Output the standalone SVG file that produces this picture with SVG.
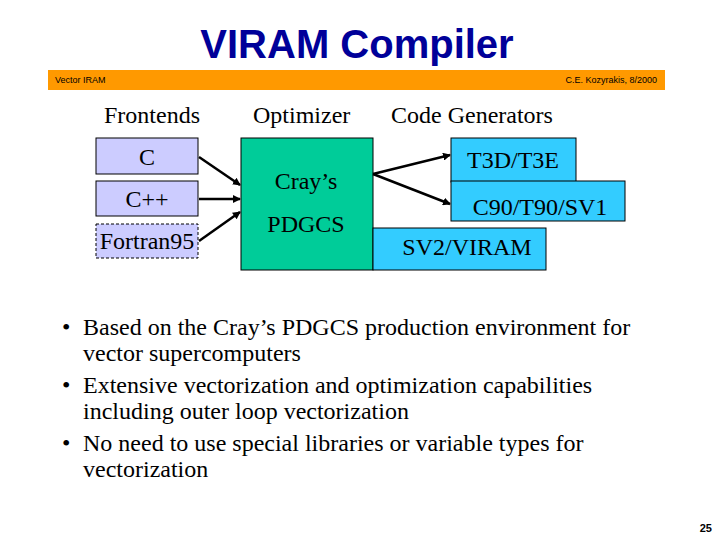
<svg xmlns="http://www.w3.org/2000/svg" width="720" height="540" viewBox="0 0 720 540">
<style>
.t{font-family:"Liberation Serif","Times New Roman",serif;font-size:24px;fill:#000}
.b{font-family:"Liberation Serif","Times New Roman",serif;font-size:24px;fill:#000;text-anchor:middle}
.fe{fill:#ccccff;stroke:#000;stroke-width:1}
.cg{fill:#33ccff;stroke:#000;stroke-width:1}
.c{stroke:#000;stroke-width:2.5;fill:none;marker-end:url(#ah)}
.s{font-family:"Liberation Sans",Arial,sans-serif;font-size:9px;fill:#000}
</style>
<defs>
<marker id="ah" markerWidth="8" markerHeight="8" refX="7" refY="4" orient="auto" markerUnits="userSpaceOnUse" viewBox="0 0 8 8">
<path d="M0,0 L8,4 L0,8 Z" fill="#000"/>
</marker>
</defs>
<rect width="720" height="540" fill="#fff"/>
<text x="357" y="58" text-anchor="middle" font-family="Liberation Sans,Arial,sans-serif" font-weight="bold" font-size="40" fill="#000099">VIRAM Compiler</text>
<rect x="48" y="70" width="617" height="20" fill="#ff9900"/>
<text x="55" y="83" class="s">Vector IRAM</text>
<text x="657" y="83" class="s" text-anchor="end">C.E. Kozyrakis, 8/2000</text>
<text x="104" y="123" class="t">Frontends</text>
<text x="253" y="123" class="t">Optimizer</text>
<text x="391" y="123" class="t">Code Generators</text>
<g id="node-c"><rect x="96" y="138" width="102" height="36" class="fe"/><text x="147" y="165" class="b">C</text></g>
<g id="node-cpp"><rect x="96" y="181" width="102" height="35" class="fe"/><text x="147" y="207" class="b">C++</text></g>
<g id="node-fortran"><rect x="96" y="224" width="102" height="34" class="fe" stroke-dasharray="3,2"/><text x="147" y="249" class="b">Fortran95</text></g>
<g id="node-pdgcs"><rect x="241" y="138" width="132" height="132" fill="#00cc99" stroke="#000"/><text x="306" y="189" class="b">Cray’s</text><text x="306" y="232" class="b">PDGCS</text></g>
<g id="node-t3d"><rect x="451" y="138" width="125" height="44" class="cg"/><text x="513" y="168" class="b">T3D/T3E</text></g>
<g id="node-c90"><rect x="451" y="181" width="174" height="40" class="cg"/><text x="540" y="215" class="b">C90/T90/SV1</text></g>
<g id="node-sv2"><rect x="373" y="228" width="173" height="42" class="cg"/><text x="467" y="255" class="b">SV2/VIRAM</text></g>
<g id="connectors">
<line x1="199" y1="157" x2="240" y2="185" class="c"/>
<line x1="199" y1="199" x2="240" y2="199" class="c"/>
<line x1="199" y1="241" x2="240" y2="212" class="c"/>
<line x1="373" y1="174" x2="450" y2="155" class="c"/>
<line x1="373" y1="174" x2="450" y2="204" class="c"/>
</g>
<g class="t">
<text x="62" y="335">•</text><text x="83" y="335">Based on the Cray’s PDGCS production environment for</text>
<text x="83" y="361">vector supercomputers</text>
<text x="62" y="393">•</text><text x="83" y="393">Extensive vectorization and optimization capabilities</text>
<text x="83" y="419">including outer loop vectorization</text>
<text x="62" y="451">•</text><text x="83" y="451">No need to use special libraries or variable types for</text>
<text x="83" y="477">vectorization</text>
</g>
<text x="712" y="532" text-anchor="end" font-family="Liberation Sans,Arial,sans-serif" font-weight="bold" font-size="11">25</text>
</svg>
